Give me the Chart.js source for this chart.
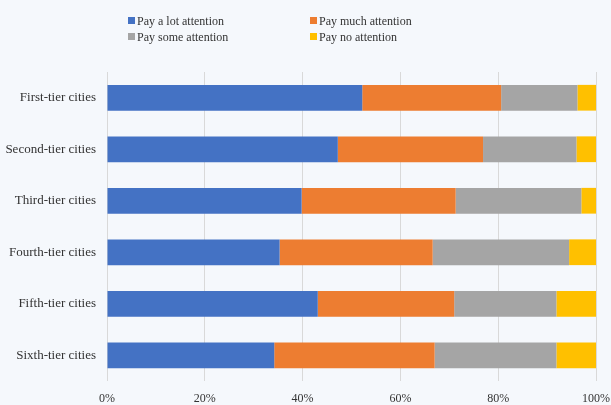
<!DOCTYPE html>
<html>
<head>
<meta charset="utf-8">
<script src="https://cdn.jsdelivr.net/npm/chart.js@4/dist/chart.umd.min.js"></script>
<style>
  html, body { margin: 0; padding: 0; background: #f5f8fc; }
  #wrap { position: relative; width: 611px; height: 405px; }
  #legend { position: absolute; left: 0; top: 0; width: 611px; height: 50px;
    font-family: "Liberation Serif", "Times New Roman", serif; font-size: 12px; color: #333; }
  .item { position: absolute; white-space: nowrap; line-height: 14px; }
  .box { display: inline-block; width: 7px; height: 7px; margin-right: 2px; vertical-align: 1px; }
</style>
</head>
<body>
<div id="wrap">
  <canvas id="chart" width="611" height="405"></canvas>
  <div id="legend"></div>
</div>
<script>
// categories, top to bottom
const cities = ['First-tier cities', 'Second-tier cities', 'Third-tier cities',
  'Fourth-tier cities', 'Fifth-tier cities', 'Sixth-tier cities'];

// shares in percent
const aLot = [52.2, 47.2, 39.8, 35.3, 43.1, 34.2];
const much = [28.4, 29.7, 31.5, 31.3, 27.9, 32.8];
const some = [15.6, 19.1, 25.7, 27.9, 20.9, 24.9];
const none = [3.8, 4.0, 3.0, 5.5, 8.1, 8.1];

const seriesNames = ['Pay a lot attention', 'Pay much attention', 'Pay some attention', 'Pay no attention'];
const colors = ['#4472c4', '#ed7d31', '#a5a5a5', '#ffc000'];
const xTicks = [0, 20, 40, 60, 80, 100];

const serif = '"Liberation Serif", "Times New Roman", serif';

const allData = [aLot, much, some, none];
const datasets = allData.map((d, i) => ({
  label: seriesNames[i],
  data: d,
  backgroundColor: colors[i],
  borderWidth: 0,
  barPercentage: 0.5,
  categoryPercentage: 1
}));

const ctx = document.getElementById('chart').getContext('2d');
new Chart(ctx, {
  type: 'bar',
  data: { labels: cities, datasets: datasets },
  options: {
    indexAxis: 'y',
    responsive: false,
    animation: false,
    layout: { padding: { top: 72, right: 15, left: 0, bottom: 0 } },
    plugins: { legend: { display: false }, tooltip: { enabled: false } },
    scales: {
      x: {
        stacked: true,
        min: 0,
        max: 100,
        afterBuildTicks: (s) => { s.ticks = xTicks.map(v => ({ value: v })); },
        afterFit: (s) => { s.height = 24; s.paddingLeft = 0; s.paddingRight = 0; },
        grid: { color: '#d9d9d9', drawTicks: false },
        border: { display: false },
        ticks: {
          padding: 11,
          color: '#333',
          font: { family: serif, size: 12 },
          callback: (v) => v + '%'
        }
      },
      y: {
        stacked: true,
        afterFit: (s) => { s.width = 107; },
        grid: { display: false, drawTicks: false },
        border: { display: false },
        ticks: {
          padding: 11,
          color: '#333',
          font: { family: serif, size: 13 }
        }
      }
    }
  }
});

// legend, two columns like the original
const legend = document.getElementById('legend');
const legendPos = [[128, 14], [310, 14], [128, 30], [310, 30]];
seriesNames.forEach((name, i) => {
  const item = document.createElement('div');
  item.className = 'item';
  item.style.left = legendPos[i][0] + 'px';
  item.style.top = legendPos[i][1] + 'px';
  const box = document.createElement('span');
  box.className = 'box';
  box.style.background = colors[i];
  item.appendChild(box);
  item.appendChild(document.createTextNode(name));
  legend.appendChild(item);
});
</script>
</body>
</html>
